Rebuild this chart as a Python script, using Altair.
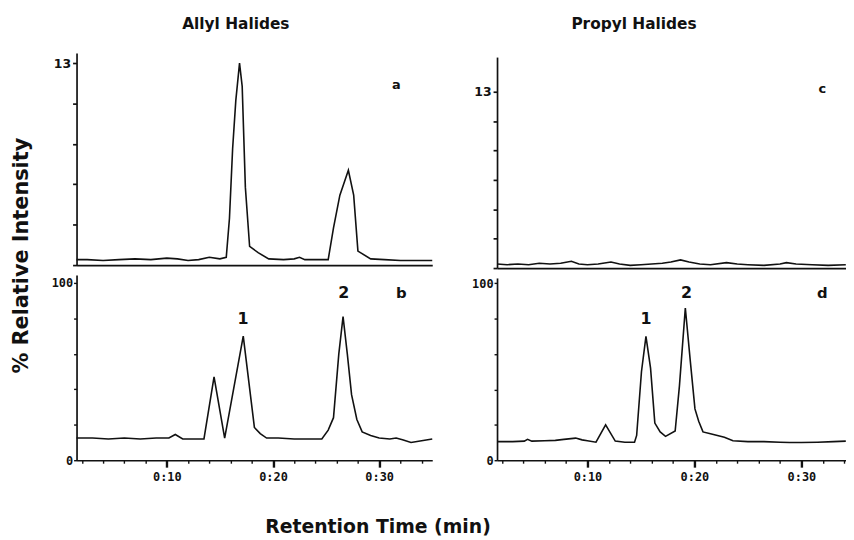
import altair as alt
import pandas as pd

# ---------------- data (retention time in min, % relative intensity) ----------------
# Panel a: Allyl halides, upper trace (x13)
a_time = [1.5, 2.5, 4.0, 5.5, 7.0, 8.5, 10.0, 11.0, 12.0, 13.0, 14.0, 15.0, 15.6, 15.9, 16.2,
          16.5, 16.85, 17.1, 17.4, 17.8, 18.6, 19.6, 21.0, 22.0, 22.5, 23.0, 24.0, 25.2, 25.7,
          26.3, 26.7, 27.1, 27.6, 28.0, 29.2, 30.5, 32.0, 33.5, 35.0]
a_int = [0.35, 0.35, 0.3, 0.35, 0.4, 0.35, 0.45, 0.4, 0.3, 0.35, 0.5, 0.4, 0.5, 3.0, 7.5,
         10.6, 13.0, 11.5, 5.0, 1.2, 0.8, 0.4, 0.35, 0.4, 0.5, 0.35, 0.35, 0.35, 2.4,
         4.5, 5.3, 6.1, 4.5, 0.9, 0.4, 0.35, 0.3, 0.3, 0.3]

# Panel b: Allyl halides, lower trace
b_time = [1.5, 3.0, 4.5, 6.0, 7.5, 9.0, 10.2, 10.8, 11.5, 12.5, 13.5, 14.45, 15.45, 17.2,
          18.25, 18.8, 19.4, 20.5, 22.0, 23.5, 24.6, 25.2, 25.7, 26.2, 26.6, 27.0, 27.4,
          27.9, 28.4, 29.2, 30.0, 31.0, 31.6, 32.2, 33.0, 34.0, 35.0]
b_int = [12.5, 12.5, 12.0, 12.5, 12.0, 12.5, 12.5, 14.5, 12.0, 12.0, 12.0, 47.0, 12.5, 70.0,
         18.5, 15.0, 12.5, 12.5, 12.0, 12.0, 12.0, 17.0, 24.0, 60.0, 81.0, 60.0, 37.0,
         23.0, 16.0, 14.0, 12.5, 12.0, 12.5, 11.5, 10.0, 11.0, 12.0]

# Panel c: Propyl halides, upper trace (x13)
c_time = [1.55, 2.5, 3.5, 4.5, 5.5, 6.5, 7.5, 8.5, 9.2, 10.0, 11.0, 12.2, 13.0, 14.0, 15.0,
          16.0, 17.0, 17.8, 18.7, 19.5, 20.5, 21.5, 23.0, 24.0, 25.0, 26.5, 28.0, 28.6,
          29.5, 31.0, 32.5, 34.15]
c_int = [0.3, 0.25, 0.3, 0.25, 0.35, 0.3, 0.35, 0.5, 0.3, 0.25, 0.3, 0.45, 0.3, 0.2, 0.25,
         0.3, 0.35, 0.45, 0.6, 0.45, 0.3, 0.25, 0.4, 0.3, 0.25, 0.2, 0.3, 0.4,
         0.3, 0.25, 0.2, 0.25]

# Panel d: Propyl halides, lower trace
d_time = [1.55, 3.0, 4.1, 4.4, 4.8, 6.0, 7.0, 7.8, 8.9, 9.5, 10.0, 10.8, 11.7, 12.6, 13.5,
          14.4, 14.6, 15.05, 15.47, 15.9, 16.3, 16.8, 17.3, 18.2, 18.6, 19.15, 19.6, 20.05,
          20.4, 20.8, 21.5, 22.8, 23.6, 25.0, 26.5, 28.0, 28.9, 30.0, 31.5, 33.0, 34.15]
d_int = [10.5, 10.5, 10.8, 11.8, 10.8, 11.0, 11.2, 11.8, 12.5, 11.5, 11.0, 10.2, 20.0, 10.8,
         10.2, 10.2, 14.0, 50.0, 70.0, 52.0, 21.0, 16.0, 13.5, 16.5, 42.0, 86.0, 57.0, 29.0,
         22.0, 16.0, 15.0, 13.0, 11.0, 10.5, 10.5, 10.2, 10.0, 10.0, 10.2, 10.5, 10.8]

# annotations
col_titles = ["Allyl Halides", "Propyl Halides"]
panel_letters = ["a", "b", "c", "d"]
peak_labels = ["1", "2"]
x_tick_values = [2, 4, 6, 8, 10, 12, 14, 16, 18, 20, 22, 24, 26, 28, 30, 32, 34]
ya_ticks = [0, 2.6, 5.2, 7.8, 10.4, 13]
yc_ticks = [0, 13 / 6, 26 / 6, 39 / 6, 52 / 6, 65 / 6, 13]
ybd_ticks = [0, 20, 40, 60, 80, 100]

W, H = 846, 532
INK = "#111111"
MONO = "DejaVu Sans Mono"
SANS = "DejaVu Sans"

# ---------------- scales (each panel positioned inside one canvas) ----------------
XL = alt.Scale(domain=[1.5, 35], range=[69.2, 428.3], nice=False, zero=False)
XR = alt.Scale(domain=[1.55, 34.15], range=[493.7, 845.8], nice=False, zero=False)
YA = alt.Scale(domain=[0, 13.64], range=[257, 43], nice=False, zero=False)
YB = alt.Scale(domain=[0, 104.5], range=[454, 267], nice=False, zero=False)
YC = alt.Scale(domain=[0, 15.56], range=[260, 47], nice=False, zero=False)
YD = alt.Scale(domain=[0, 103], range=[454, 270], nice=False, zero=False)

common_axis = dict(domainColor=INK, domainWidth=1.7, tickColor=INK, grid=False,
                   labelColor=INK, titleColor=INK)


def bare_x(y_local):
    return alt.Axis(orient="bottom", offset=y_local - H, ticks=False, labels=False,
                    title=None, **common_axis)


def time_x(y_local, **kw):
    return alt.Axis(orient="bottom", offset=y_local - H, values=x_tick_values,
                    tickSize={"condition": {"test": "datum.value % 10 === 0", "value": 7}, "value": 3},
                    tickWidth={"condition": {"test": "datum.value % 10 === 0", "value": 2.4}, "value": 1.4},
                    labelExpr="datum.value % 10 === 0 ? '0:' + datum.value : ''",
                    labelFont=MONO, labelFontWeight="bold", labelFontSize=12, labelPadding=4,
                    labelFlush=False, labelOverlap=False, **kw, **common_axis)


def top_y(x_local, ticks, **kw):
    return alt.Axis(orient="left", offset=-x_local, values=ticks, tickSize=4, tickWidth=1.7,
                    labelExpr="abs(datum.value - 13) < 0.001 ? '13' : ''",
                    labelFont=SANS, labelFontWeight="bold", labelFontSize=12.5, labelPadding=2,
                    labelOverlap=False, **kw, **common_axis)


def low_y(x_local):
    return alt.Axis(orient="left", offset=-x_local, values=ybd_ticks, tickSize=3, tickWidth=1.4,
                    labelExpr="datum.value == 0 || datum.value == 100 ? datum.label : ''",
                    labelFont=MONO, labelFontWeight="bold", labelFontSize=12, labelPadding=1,
                    labelOverlap=False, title=None, **common_axis)


def trace(t, v, xs, ys, xaxis, yaxis):
    df = pd.DataFrame({"t": t, "v": v})
    return alt.Chart(df).mark_line(color=INK, strokeWidth=1.6).encode(
        x=alt.X("t:Q", scale=xs, axis=xaxis),
        y=alt.Y("v:Q", scale=ys, axis=yaxis),
    )


def labels(t, v, txt, xs, ys, size, font=SANS):
    df = pd.DataFrame({"t": t, "v": v, "label": txt})
    return alt.Chart(df).mark_text(font=font, fontWeight="bold", fontSize=size, color=INK,
                                   align="center", baseline="middle").encode(
        x=alt.X("t:Q", scale=xs, axis=None),
        y=alt.Y("v:Q", scale=ys, axis=None),
        text="label:N",
    )


layers = [
    trace(a_time, a_int, XL, YA, bare_x(257),
          top_y(69.2, ya_ticks, title="% Relative Intensity", titleX=-56, titleY=247,
                titleAngle=270, titleAlign="center", titleBaseline="middle",
                titleFont=SANS, titleFontWeight="bold", titleFontSize=21)),
    trace(b_time, b_int, XL, YB,
          time_x(454, title="Retention Time (min)", titleX=373, titleY=67,
                 titleAlign="center", titleBaseline="middle", titleFont=SANS,
                 titleFontWeight="bold", titleFontSize=19),
          low_y(69.2)),
    trace(c_time, c_int, XR, YC, bare_x(260), top_y(493.7, yc_ticks, title=None)),
    trace(d_time, d_int, XR, YD, time_x(454, title=None), low_y(493.7)),
    # column titles
    labels([16.5], [15.49], [col_titles[0]], XL, YA, 15.5),
    labels([14.35], [17.97], [col_titles[1]], XR, YC, 15.5),
    # panel letters
    labels([31.61], [11.6], [panel_letters[0]], XL, YA, 13),
    labels([32.08], [94.4], [panel_letters[1]], XL, YB, 15),
    labels([31.95], [13.2], [panel_letters[2]], XR, YC, 13),
    labels([31.95], [94.6], [panel_letters[3]], XR, YD, 15),
    # peak numbers
    labels([17.17, 26.67], [79.4, 94.4], peak_labels, XL, YB, 16),
    labels([15.47, 19.26], [79.5, 94.6], peak_labels, XR, YD, 16),
]

chart = alt.layer(*layers).resolve_scale(x="independent", y="independent").resolve_axis(
    x="independent", y="independent"
).properties(
    width=W, height=H, autosize=alt.AutoSizeParams(type="none"), padding=0
).configure_view(stroke=None)

chart.save("out.html", embed_options={"renderer": "svg", "actions": False})
